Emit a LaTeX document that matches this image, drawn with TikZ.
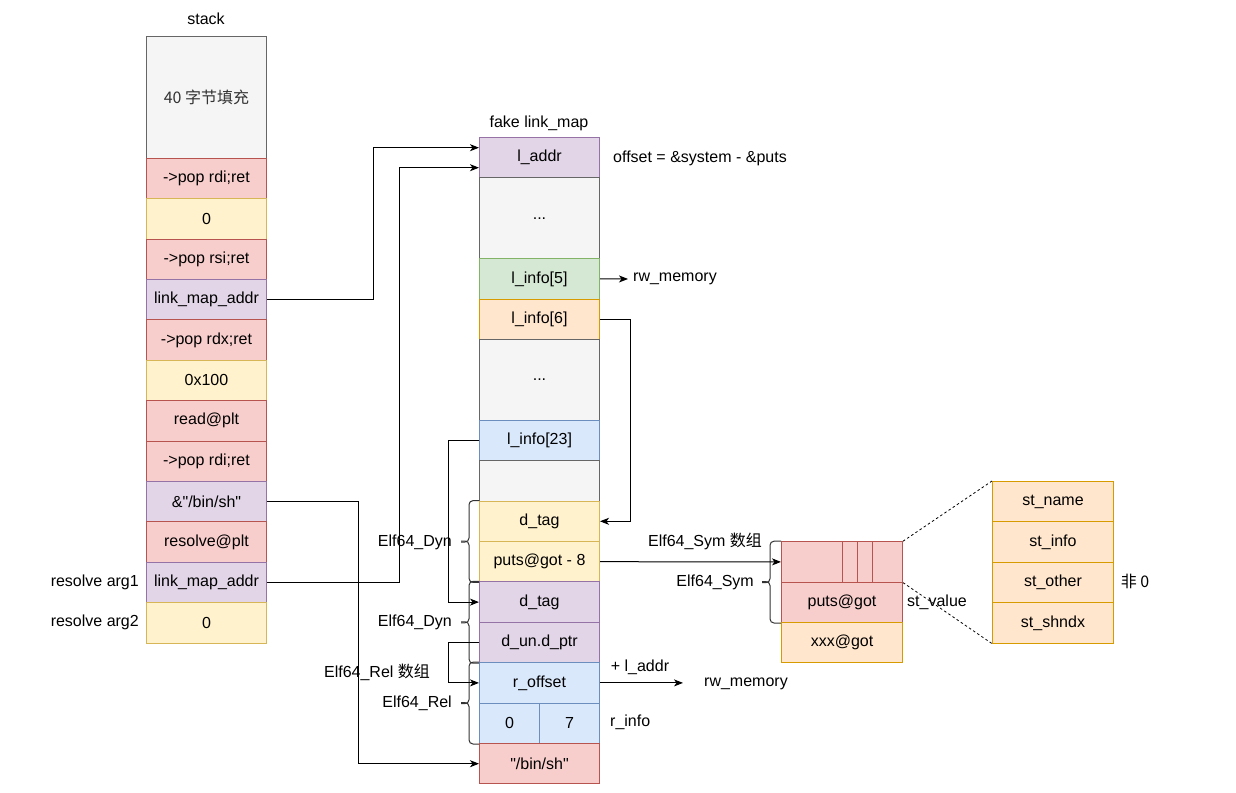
\documentclass[tikz,border=0pt]{standalone}
\usepackage{fontspec}
\setmainfont{Liberation Sans}
\newfontfamily\cjk{Noto Sans CJK SC}
\usetikzlibrary{arrows.meta,calc}
\newcommand\dq{\XeTeXglyph\XeTeXcharglyph"22\relax}
\definecolor{grayF}{HTML}{F5F5F5}\definecolor{grayS}{HTML}{666666}\definecolor{grayT}{HTML}{333333}
\definecolor{redF}{HTML}{F8CECC}\definecolor{redS}{HTML}{B85450}
\definecolor{yelF}{HTML}{FFF2CC}\definecolor{yelS}{HTML}{D6B656}
\definecolor{purF}{HTML}{E1D5E7}\definecolor{purS}{HTML}{9673A6}
\definecolor{grnF}{HTML}{D5E8D4}\definecolor{grnS}{HTML}{82B366}
\definecolor{oraF}{HTML}{FFE6CC}\definecolor{oraS}{HTML}{D79B00}
\definecolor{bluF}{HTML}{DAE8FC}\definecolor{bluS}{HTML}{6C8EBF}
\begin{document}
\begin{tikzpicture}[x=1pt,y=-1pt,
  every node/.style={font=\fontsize{16}{19}\selectfont, inner sep=0pt},
  cell/.style={draw, line width=1pt, minimum width=120pt, minimum height=40.4pt, anchor=north west},
  grayc/.style={cell, fill=grayF, draw=grayS, text=grayT},
  redc/.style={cell, fill=redF, draw=redS},
  yelc/.style={cell, fill=yelF, draw=yelS},
  purc/.style={cell, fill=purF, draw=purS},
  grnc/.style={cell, fill=grnF, draw=grnS},
  orac/.style={cell, fill=oraF, draw=oraS},
  bluc/.style={cell, fill=bluF, draw=bluS},
  arr/.style={line width=1pt, -{Stealth[length=9pt,width=7pt,inset=2.5pt]}},
  brc/.style={line width=1pt, black!80, rounded corners=4pt}
]
\useasboundingbox (0,0) rectangle (1236,792);
\fill[white] (0,0) rectangle (1236,792);
% ---------- stack ----------
\node (stk) at (206,19) {stack};
\node[grayc, minimum height=121.2pt] (S0) at (146,36.5) {\cjk{40 字节填充}};
\node[redc] (S1) at (146,157.7) {->pop rdi;ret};
\node[yelc] (S2) at (146,198.1) {0};
\node[redc] (S3) at (146,238.5) {->pop rsi;ret};
\node[purc] (S4) at (146,278.9) {link\_map\_addr};
\node[redc] (S5) at (146,319.3) {->pop rdx;ret};
\node[yelc] (S6) at (146,359.7) {0x100};
\node[redc] (S7) at (146,400.1) {read@plt};
\node[redc] (S8) at (146,440.5) {->pop rdi;ret};
\node[purc] (S9) at (146,480.9) {\&\dq/bin/sh\dq};
\node[redc] (S10) at (146,521.3) {resolve@plt};
\node[purc] (S11) at (146,561.7) {link\_map\_addr};
\node[yelc] (S12) at (146,602.1) {0};
\node[anchor=east] (ra1) at ($(S11.west)+(-7,0)$) {resolve arg1};
\node[anchor=east] (ra2) at ($(S12.west)+(-7,0)$) {resolve arg2};
% ---------- fake link_map ----------
\node (flm) at (539,123) {fake link\_map};
\node[purc] (M1) at (479,137) {l\_addr};
\node[grayc, text=black, minimum height=80.8pt] (M2) at (479,177.4) {...};
\node[grnc] (M3) at (479,258.2) {l\_info[5]};
\node[orac] (M4) at (479,298.6) {l\_info[6]};
\node[grayc, text=black, minimum height=80.8pt] (M5) at (479,339) {...};
\node[bluc] (M6) at (479,419.8) {l\_info[23]};
\node[grayc] (M7) at (479,460.2) {};
\node[yelc] (M8) at (479,500.6) {d\_tag};
\node[yelc] (M9) at (479,541) {puts@got - 8};
\node[purc] (M10) at (479,581.4) {d\_tag};
\node[purc] (M11) at (479,621.8) {d\_un.d\_ptr};
\node[bluc] (M12) at (479,662.2) {r\_offset};
\node[bluc, minimum width=60pt] (M13a) at (479,702.6) {0};
\node[bluc, minimum width=60pt] (M13b) at (539,702.6) {7};
\node[redc] (M14) at (479,743) {\dq/bin/sh\dq};
\node[anchor=west] (offs) at (613,158) {offset = \&system - \&puts};
\node[anchor=west] (rw1) at (633,279) {rw\_memory};
\node[anchor=west] (rw2) at (704,684) {rw\_memory};
\node (ladd) at (640,667) {+ l\_addr};
\node[anchor=west] (rinfo) at (610,722) {r\_info};
% ---------- Elf64_Sym ----------
\node[redc, minimum width=121pt] (Y1) at (781,541.2) {};
\draw[redS, line width=1pt] (842,541.2) -- (842,581.6) (857,541.2) -- (857,581.6) (872,541.2) -- (872,581.6);
\node[redc, minimum width=121pt] (Y2) at (781,581.6) {puts@got};
\node[orac, minimum width=121pt] (Y3) at (781,622) {xxx@got};
\node (symarr) at (705,541) {Elf64\_Sym \cjk{数组}};
\node[anchor=west] (stv) at (907,602) {st\_value};
% ---------- right table ----------
\node[orac, minimum width=121pt] (T1) at (992,481) {st\_name};
\node[orac, minimum width=121pt] (T2) at (992,521.4) {st\_info};
\node[orac, minimum width=121pt] (T3) at (992,561.8) {st\_other};
\node[orac, minimum width=121pt] (T4) at (992,602.2) {st\_shndx};
\node (non0) at (1135,581) {\cjk{非} 0};
\draw[line width=0.8pt, dash pattern=on 2.5pt off 2.5pt] (Y1.north east) -- (T1.north west);
\draw[line width=0.8pt, dash pattern=on 2.5pt off 2.5pt] (Y1.south east) -- (T4.south west);
% ---------- braces ----------
\draw[brc] (M8.north west) -- ++(-10,0) |- ($(M8.south west)+(-18,0)$);
\draw[brc] (M9.south west) -- ++(-10,0) |- ($(M9.north west)+(-18,0)$);
\draw[brc] (M10.north west) -- ++(-10,0) |- ($(M10.south west)+(-18,0)$);
\draw[brc] (M11.south west) -- ++(-10,0) |- ($(M11.north west)+(-18,0)$);
\draw[brc] (M12.north west) -- ++(-10,0) |- ($(M12.south west)+(-18,0)$);
\draw[brc] (M13a.south west) -- ++(-10,0) |- ($(M13a.north west)+(-18,0)$);
\draw[brc] (Y1.north west) -- ++(-11,0) |- ($(Y1.south west)+(-19,0)$);
\draw[brc] (Y2.south west) -- ++(-11,0) |- ($(Y2.north west)+(-19,0)$);
\node[anchor=east] (dyn1) at ($(M8.south west)+(-27,0)$) {Elf64\_Dyn};
\node[anchor=east] (dyn2) at ($(M10.south west)+(-27,0)$) {Elf64\_Dyn};
\node[anchor=east] (rel1) at ($(M12.south west)+(-27,0)$) {Elf64\_Rel};
\node[anchor=east] (sym1) at ($(Y1.south west)+(-27,0)$) {Elf64\_Sym};
\node (relarr) at (377,672) {Elf64\_Rel \cjk{数组}};
% ---------- connectors ----------
\draw[arr] (S4.east) -- ++(106,0) |- ($(M1.west)+(0,-10)$);
\draw[arr] (S11.east) -- ++(132,0) |- ($(M1.west)+(0,10)$);
\draw[arr] (S9.east) -- ++(91,0) |- (M14.west);
\draw[arr] (M6.west) -- ++(-31,0) |- (M10.west);
\draw[arr] (M11.west) -- ++(-31,0) |- (M12.west);
\draw[arr] (M4.east) -- ++(30,0) |- (M8.east);
\draw[arr, shorten >=5pt] (M3.east) -- (rw1.west);
\draw[arr, shorten >=21pt] (M12.east) -- (M12.east -| rw2.west);
\draw[arr] (M9.east) -- (Y1.west);
\end{tikzpicture}
\end{document}
